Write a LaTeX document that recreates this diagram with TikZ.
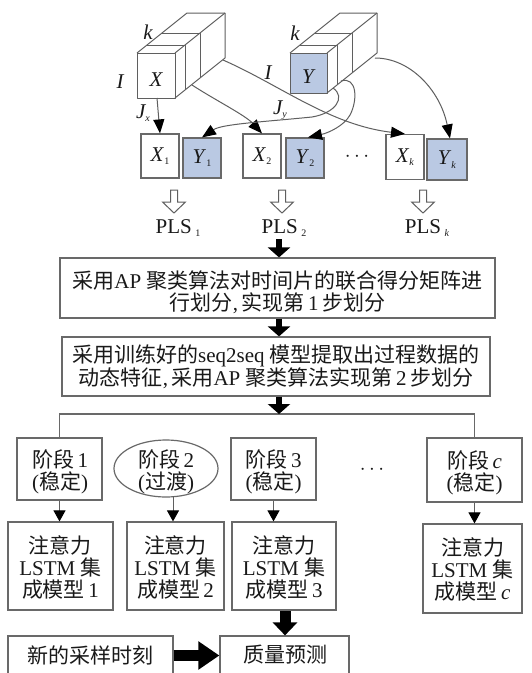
\documentclass[tikz,border=0pt]{standalone}
\usepackage{fontspec}
\setmainfont{Liberation Serif}
\newfontfamily\cjk{Noto Sans CJK SC}
\usetikzlibrary{arrows.meta,shapes.geometric}
\newcommand\zh[1]{{\cjk #1}}
\newcommand\mysub[1]{\raisebox{-0.35ex}{\fontsize{10}{10}\selectfont #1}}
\definecolor{ln}{RGB}{95,95,95}
\definecolor{bx}{RGB}{105,105,105}
\definecolor{blu}{RGB}{186,201,227}
\definecolor{tx}{RGB}{25,25,25}
\newcommand\drawcube[5]{%
  \fill[#5] (#1,#2) rectangle (#3,#4);
  \draw[cubeln] (#1,#2) rectangle (#3,#4);
  \draw[cubeln] (#1,#2) -- ({#1+50},{#2-40}) -- ({#3+50},{#2-40}) -- ({#3+50},{#4-40}) -- (#3,#4);
  \draw[cubeln] (#3,#2) -- ({#3+50},{#2-40});
  \draw[cubeln] ({#1+10},{#2-8}) -- ({#3+10},{#2-8}) -- ({#3+10},{#4-8});
  \draw[cubeln] ({#1+25},{#2-20}) -- ({#3+25},{#2-20}) -- ({#3+25},{#4-20});
}
\begin{document}
\begin{tikzpicture}[x=1pt,y=-1pt,
  box/.style={draw=bx,line width=1.2pt,inner sep=0pt,fill=white,text=tx,font=\fontsize{21}{22}\selectfont},
  bbox/.style={box,fill=blu},
  txt/.style={text=tx,align=center,inner sep=0pt,font=\fontsize{21}{22}\selectfont},
  lbl/.style={text=tx,inner sep=0pt,font=\fontsize{21}{22}\selectfont\itshape},
  cubeln/.style={draw=ln,line width=1pt,line join=round},
  conn/.style={draw=ln,line width=1pt,-{Triangle[length=14pt,width=11pt,color=black]}},
  sarr/.style={draw=ln,line width=1pt,-{Triangle[length=11pt,width=12pt,color=black]}},
  barr/.style={draw=black,line width=6pt,-{Triangle[length=10pt,width=22pt]}},
  hol/.style={draw=ln,line width=1pt,fill=white,line join=miter},
  brl/.style={draw=bx,line width=1.2pt}]
\useasboundingbox (0,0) rectangle (532,673);
\fill[white] (0,0) rectangle (532,673);

% cubes
\drawcube{137}{53}{175}{98}{white}
\drawcube{290}{53}{327}{93}{blu}
\node[lbl] (xl) at (156,80) {X};
\node[lbl] (yl) at (308,77) {Y};
\node[lbl] (kx) at (148,32) {k};
\node[lbl] (ky) at (295,33) {k};
\node[lbl] (ix) at (120,82) {I};
\node[lbl] (iy) at (268,73) {I};
\node[lbl] (jx) at (143,113) {J\mysub{x}};
\node[lbl] (jy) at (280,110) {J\mysub{y}};

% slice boxes
\node[box,minimum width=38,minimum height=44] (x1) at (160,156) {\textit{X}\mysub{1}};
\node[bbox,minimum width=38,minimum height=40] (y1) at (202,158) {\textit{Y}\mysub{1}};
\node[box,minimum width=38,minimum height=44] (x2) at (262,156) {\textit{X}\mysub{2}};
\node[bbox,minimum width=38,minimum height=40] (y2) at (305,158) {\textit{Y}\mysub{2}};
\node[txt] (d1) at (357,157) {$\cdots$};
\node[box,minimum width=38,minimum height=45] (xk) at (405,157) {\textit{X}\mysub{\textit{k}}};
\node[bbox,minimum width=40,minimum height=41] (yk) at (447,159.5) {\textit{Y}\mysub{\textit{k}}};

% cube connectors
\coordinate (xs1) at (157,98);
\coordinate (xs2) at (192,85);
\coordinate (xs3) at (223,60);
\coordinate (ys1) at (333,88);
\coordinate (ys2) at (341,81);
\coordinate (ys3) at (375,58);
\draw[conn] (xs1) -- (x1.north);
\draw[conn] (xs2) .. controls (215,100) and (245,115) .. (x2.north);
\draw[conn] (xs3) .. controls (280,85) and (330,125) .. (xk.north);
\draw[conn] (ys1) .. controls (346,97) and (336,113) .. (312,117) .. controls (262,122) and (222,124) .. (y1.north);
\draw[conn] (ys2) .. controls (357,76) and (358,100) .. (350,115) .. controls (344,126) and (328,133) .. ([xshift=3pt]y2.north);
\draw[conn] (ys3) .. controls (410,58) and (440,90) .. ([xshift=3pt]yk.north);

% hollow arrows
\draw[hol,shift={(174,190)}] (-3.5,0) -- (3.5,0) -- (3.5,12) -- (11.5,12) -- (0,23) -- (-11.5,12) -- (-3.5,12) -- cycle;
\draw[hol,shift={(282,190)}] (-3.5,0) -- (3.5,0) -- (3.5,12) -- (11.5,12) -- (0,23) -- (-11.5,12) -- (-3.5,12) -- cycle;
\draw[hol,shift={(423,190)}] (-3.5,0) -- (3.5,0) -- (3.5,12) -- (11.5,12) -- (0,23) -- (-11.5,12) -- (-3.5,12) -- cycle;
\node[txt] (p1) at (178,228) {PLS\,\mysub{1}};
\node[txt] (p2) at (284,228) {PLS\,\mysub{2}};
\node[txt] (pk) at (427,228) {PLS\,\mysub{\textit{k}}};

% step boxes
\node[box,minimum width=435,minimum height=60] (b1) at (277.5,288) {};
\node[txt] (b1t) at (277.5,292.5) {\zh{采用}AP \zh{聚类算法对时间片的联合得分矩阵进}\\\zh{行划分},\,\zh{实现第}\,1\,\zh{步划分}};
\node[box,minimum width=428,minimum height=59] (b2) at (276,366.5) {};
\node[txt] (b2t) at (276,366.5) {\zh{采用训练好的}seq2seq \zh{模型提取出过程数据的}\\\zh{动态特征},\,\zh{采用}AP \zh{聚类算法实现第}\,2\,\zh{步划分}};

\coordinate (a1) at (279,239);
\draw[barr] (a1) -- (a1 |- b1.north);
\draw[barr] (b1.south -| a1) -- (b2.north -| a1);

% stages
\node[box,minimum width=85,minimum height=62] (s1) at (59.5,469) {};
\node[txt] (s1t) at (60,471.5) {\zh{阶段}\,1\\(\zh{稳定})};
\node[draw=bx,line width=1.2pt,ellipse,minimum width=104,minimum height=57,inner sep=0pt] (s2) at (166,468.5) {};
\node[txt] (s2t) at (166,471.5) {\zh{阶段}\,2\\(\zh{过渡})};
\node[box,minimum width=85,minimum height=62] (s3) at (273.5,469) {};
\node[txt] (s3t) at (273.5,471.5) {\zh{阶段}\,3\\(\zh{稳定})};
\node[txt] (d2) at (372,470) {$\cdots$};
\node[box,minimum width=95,minimum height=64] (sc) at (474.5,470) {};
\node[txt] (sct) at (474.5,472.5) {\zh{阶段}\,\textit{c}\\(\zh{稳定})};

\coordinate (bl) at (60,414);
\draw[brl] (s1.north) -- (s1.north |- bl) -- (sc.north |- bl) -- (sc.north);
\draw[barr] (b2.south -| a1) -- (a1 |- bl);

% models
\node[box,minimum width=105,minimum height=88] (m1) at (60.5,566) {};
\node[txt] (m1t) at (60.5,567) {\zh{注意力}\\LSTM \zh{集}\\\zh{成模型}\,1};
\node[box,minimum width=97,minimum height=88] (m2) at (175.5,566) {};
\node[txt] (m2t) at (175.5,567) {\zh{注意力}\\LSTM \zh{集}\\\zh{成模型}\,2};
\node[box,minimum width=104,minimum height=88] (m3) at (284,566) {};
\node[txt] (m3t) at (284,567) {\zh{注意力}\\LSTM \zh{集}\\\zh{成模型}\,3};
\node[box,minimum width=99,minimum height=89] (mc) at (472.5,568.5) {};
\node[txt] (mct) at (472.5,569.5) {\zh{注意力}\\LSTM \zh{集}\\\zh{成模型}\,\textit{c}};

\coordinate (e2) at (173,496);
\draw[sarr] (s1.south) -- (s1.south |- m1.north);
\draw[sarr] (e2) -- (e2 |- m2.north);
\draw[sarr] (s3.south) -- (s3.south |- m3.north);
\draw[sarr] (sc.south) -- (sc.south |- mc.north);

% bottom
\node[box,minimum width=165,minimum height=39] (ns) at (90.5,655.5) {};
\node[txt] (nst) at (90.5,655) {\zh{新的采样时刻}};
\node[box,minimum width=129,minimum height=39] (q) at (284.5,655.5) {};
\node[txt] (qt) at (285,655) {\zh{质量预测}};
\coordinate (a3) at (285,611);
\draw[black,line width=11pt,-{Triangle[length=13pt,width=24pt]}] (a3) -- (a3 |- q.north);
\draw[black,line width=11pt,-{Triangle[length=21pt,width=27pt]}] (ns.east) -- (q.west);
\end{tikzpicture}
\end{document}
